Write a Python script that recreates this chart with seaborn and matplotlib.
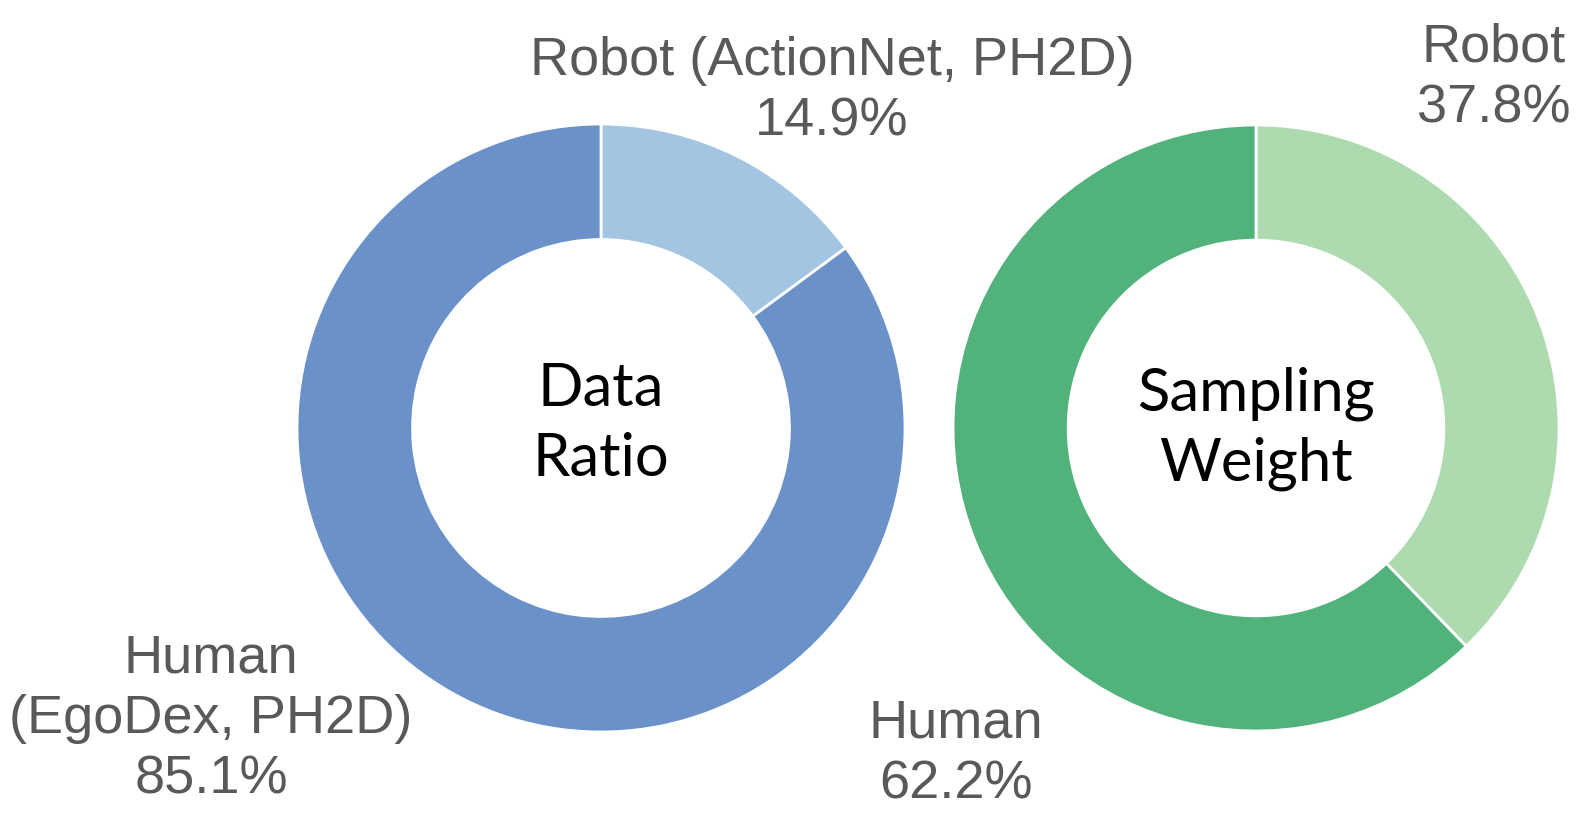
import matplotlib
matplotlib.use("Agg")
import matplotlib.pyplot as plt
import seaborn as sns

# data
data_labels = ["Robot (ActionNet, PH2D)", "Human\n(EgoDex, PH2D)"]
data_ratio = [14.9, 85.1]
weight_labels = ["Robot", "Human"]
sampling_weight = [37.8, 62.2]

sns.set_theme(style="white")
plt.rcParams["font.family"] = ["Liberation Sans", "DejaVu Sans"]

blue_colors = ["#A3C5E1", "#6A91C8"]
green_colors = ["#AEDAB0", "#52B27C"]
label_color = "#595959"

W, H = 1579, 817
fig = plt.figure(figsize=(W / 100, H / 100), dpi=100)
ax = fig.add_axes([0, 0, 1, 1])

def donut(values, colors, center, radius):
    ax.pie(values, colors=colors, center=center, radius=radius,
           startangle=90, counterclock=False,
           wedgeprops=dict(width=radius * 0.38, edgecolor="white", linewidth=2))

left_c = (601, H - 428)
right_c = (1256, H - 428)
donut(data_ratio, blue_colors, left_c, 304)
donut(sampling_weight, green_colors, right_c, 303)

ax.set_xlim(0, W)
ax.set_ylim(0, H)
ax.set_aspect("equal")
ax.axis("off")

lab_kw = dict(ha="center", va="center", fontsize=39, color=label_color, linespacing=1.27)
ax.text(832, H - 91, f"{data_labels[0]}\n{data_ratio[0]:.1f}%", **lab_kw)
ax.text(211, H - 719, f"{data_labels[1]}\n{data_ratio[1]:.1f}%", **lab_kw)
ax.text(1494, H - 78, f"{weight_labels[0]}\n{sampling_weight[0]:.1f}%", **lab_kw)
ax.text(956, H - 754, f"{weight_labels[1]}\n{sampling_weight[1]:.1f}%", **lab_kw)

mid_kw = dict(ha="center", va="center", fontsize=43, color="black",
              family=["Lato", "DejaVu Sans"], linespacing=1.36)
ax.text(left_c[0], H - 424, "Data\nRatio", **mid_kw)
ax.text(right_c[0], H - 429, "Sampling\nWeight", **mid_kw)

fig.savefig("out.png", dpi=100, facecolor="white")
